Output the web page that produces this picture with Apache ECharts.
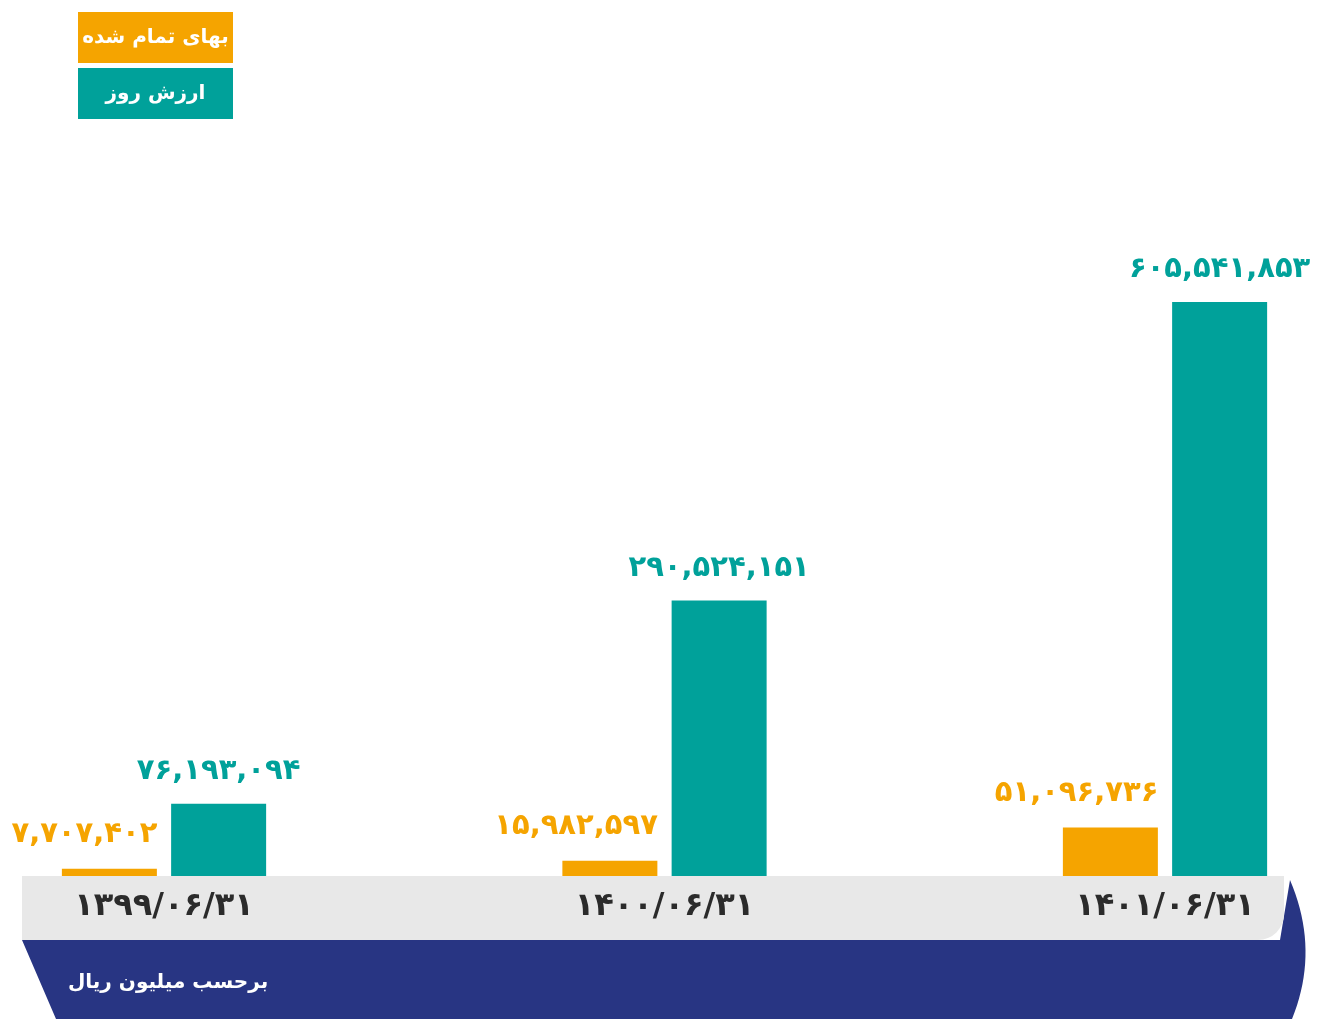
<!DOCTYPE html>
<html>
<head>
<meta charset="utf-8">
<script src="https://cdn.jsdelivr.net/npm/echarts@6/dist/echarts.min.js"></script>
<style>
  html, body { margin: 0; padding: 0; background: #fff; }
  #chart { width: 1341px; height: 1019px; }
</style>
</head>
<body>
<div id="chart"></div>
<script>
// categories (dates) and the two series, in million rials
const categories = ['۱۳۹۹/۰۶/۳۱', '۱۴۰۰/۰۶/۳۱', '۱۴۰۱/۰۶/۳۱']
const seriesNames = ['بهای تمام شده', 'ارزش روز']
const costValues = [7707402, 15982597, 51096736]
const marketValues = [76193094, 290524151, 605541853]
const unitText = 'برحسب میلیون ریال'

const ORANGE = '#f5a400'
const TEAL = '#00a19a'
const NAVY = '#283583'
const GREY = '#e8e8e8'
const FONT = 'DejaVu Sans'

const faDigits = '۰۱۲۳۴۵۶۷۸۹'
function toFa(n) {
  return n.toLocaleString('en-US').replace(/\d/g, d => faDigits[d])
}

// navy band outline, right edge bulges out as a quadratic curve
function navyPoints() {
  const pts = [[22, 940], [1280, 940]]
  const p0 = [1290, 880], c = [1320, 950], p1 = [1292, 1019]
  for (let i = 0; i <= 20; i++) {
    const t = i / 20, u = 1 - t
    pts.push([u * u * p0[0] + 2 * u * t * c[0] + t * t * p1[0],
              u * u * p0[1] + 2 * u * t * c[1] + t * t * p1[1]])
  }
  pts.push([56, 1019])
  return pts
}

const chart = echarts.init(document.getElementById('chart'))

chart.setOption({
  backgroundColor: '#fff',
  animation: false,
  textStyle: { fontFamily: FONT },
  title: {
    text: unitText,
    left: 68,
    top: 973,
    padding: 0,
    textStyle: { color: '#fff', fontSize: 20, fontWeight: 'bold', fontFamily: FONT }
  },
  legend: {
    left: 73,
    top: 12,
    padding: 0,
    orient: 'vertical',
    itemGap: 5,
    itemWidth: 0,
    itemHeight: 0,
    icon: 'none',
    selectedMode: false,
    data: seriesNames,
    formatter: name => (name === seriesNames[0] ? '{o|' : '{t|') + name + '}',
    textStyle: {
      rich: {
        o: { width: 155, height: 51, lineHeight: 51, align: 'center', backgroundColor: ORANGE,
             color: '#fff', fontSize: 20, fontWeight: 'bold', fontFamily: FONT },
        t: { width: 155, height: 51, lineHeight: 51, align: 'center', backgroundColor: TEAL,
             color: '#fff', fontSize: 20, fontWeight: 'bold', fontFamily: FONT }
      }
    }
  },
  graphic: [
    {
      type: 'polygon',
      z: -10,
      shape: { points: navyPoints() },
      style: { fill: NAVY }
    },
    {
      type: 'rect',
      z: -5,
      shape: { x: 22, y: 876, width: 1262, height: 64, r: [0, 0, 26, 0] },
      style: { fill: GREY }
    }
  ],
  grid: {
    left: 164,
    right: 176,
    top: 302,
    bottom: 143
  },
  xAxis: {
    type: 'category',
    data: categories,
    boundaryGap: false,
    axisLine: { show: false },
    axisTick: { show: false },
    axisLabel: {
      margin: 15,
      color: '#2b2b2b',
      fontSize: 32,
      fontWeight: 'bold',
      fontFamily: FONT
    }
  },
  yAxis: {
    type: 'value',
    min: 0,
    max: 'dataMax',
    show: false,
    splitLine: { show: false }
  },
  series: [
    {
      name: seriesNames[0],
      type: 'bar',
      data: costValues,
      barWidth: 95,
      barGap: '15%',
      itemStyle: { color: ORANGE },
      label: {
        show: true,
        position: 'top',
        distance: 20,
        align: 'right',
        offset: [48, 0],
        color: ORANGE,
        fontSize: 29,
        fontWeight: 'bold',
        fontFamily: FONT,
        formatter: p => toFa(p.value)
      }
    },
    {
      name: seriesNames[1],
      type: 'bar',
      data: marketValues,
      barWidth: 95,
      itemStyle: { color: TEAL },
      label: {
        show: true,
        position: 'top',
        distance: 18,
        color: TEAL,
        fontSize: 29,
        fontWeight: 'bold',
        fontFamily: FONT,
        formatter: p => toFa(p.value)
      }
    }
  ]
})
</script>
</body>
</html>
